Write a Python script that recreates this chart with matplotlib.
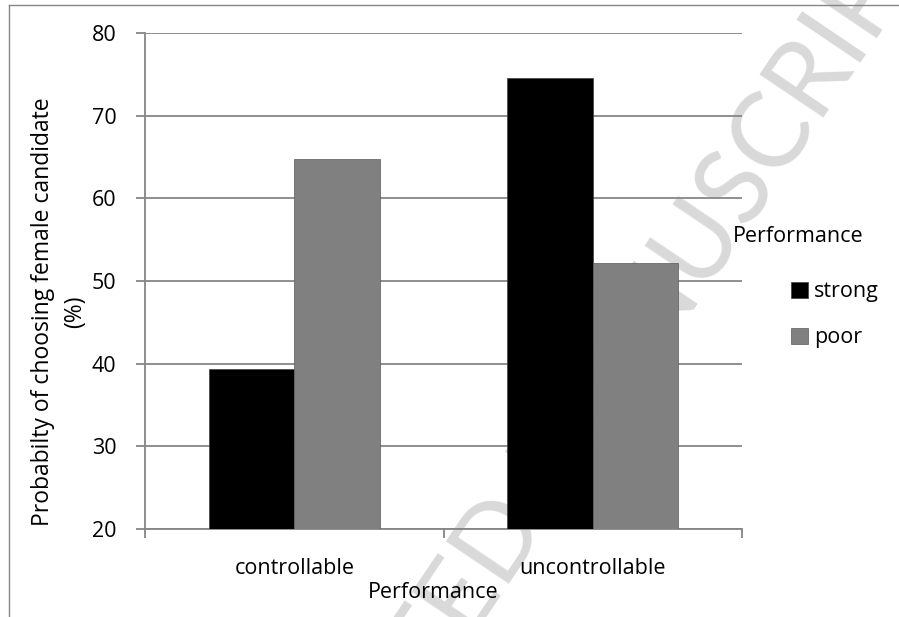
import matplotlib
matplotlib.use('Agg')
import matplotlib.pyplot as plt
import numpy as np
from matplotlib.lines import Line2D

categories = ['controllable', 'uncontrollable']
series = ['strong', 'poor']
strong = [39.4, 74.5]
poor = [64.8, 52.2]
colors = ['#000000', '#808080']
yticks = [20, 30, 40, 50, 60, 70, 80]

plt.rcParams['font.family'] = ['Open Sans', 'DejaVu Sans']
grey = '#868686'
fs = 15.5

fig = plt.figure(figsize=(8.99, 6.17), dpi=100)
ax = fig.add_axes([145 / 899, 88 / 617, 597 / 899, 496 / 617])

# watermark, drawn before the axes
fig.text(570 / 899, 1 - 440 / 617, 'ACCEPTED MANUSCRIPT', fontsize=76,
         family='Lato', color='#d9d9d9', rotation=56, ha='center',
         va='center', zorder=-1)

# partial chart frame
fig.add_artist(Line2D([9 / 899, 1], [1 - 5 / 617] * 2, color=grey, lw=1))
fig.add_artist(Line2D([9 / 899] * 2, [0, 1 - 5 / 617], color=grey, lw=1))

x = np.arange(len(categories))
w = 0.2865
ax.bar(x - w / 2, strong, w, color=colors[0], edgecolor='#404040', lw=0.5,
       label=series[0], zorder=3)
ax.bar(x + w / 2, poor, w, color=colors[1], edgecolor='#5a5a5a', lw=0.5,
       label=series[1], zorder=3)

ax.set_xlim(-0.5, 1.5)
ax.set_ylim(20, 80)
ax.set_yticks(yticks)
ax.yaxis.grid(True, color=grey, lw=1.3)
ax.set_axisbelow(True)
ax.patch.set_alpha(0)

ax.set_xticks([-0.5, 0.5, 1.5])
ax.set_xticklabels([])
ax.set_xticks(x, minor=True)
ax.set_xticklabels(categories, minor=True, fontsize=fs)
ax.tick_params(axis='x', which='minor', length=0, pad=21)
ax.tick_params(axis='x', which='major', length=6.5, color=grey, width=1.3)
ax.tick_params(axis='y', length=6.5, color=grey, width=1.3, labelsize=fs, pad=14)

for s in ['top', 'right']:
    ax.spines[s].set_visible(False)
for s in ['left', 'bottom']:
    ax.spines[s].set_color(grey)
    ax.spines[s].set_linewidth(1.3)

ax.set_xlabel('Performance', fontsize=fs)
ax.xaxis.set_label_coords(0.482, -0.106)
ax.set_ylabel('Probabilty of choosing female candidate\n(%)', fontsize=16.5,
              linespacing=1.45)
ax.yaxis.set_label_coords(-0.097, 0.438)

fig.text(733 / 899, 1 - 237 / 617, 'Performance', fontsize=fs, va='center')
ax.legend(loc='upper left', bbox_to_anchor=(772 / 899, 1 - 262 / 617),
          bbox_transform=fig.transFigure, frameon=False, fontsize=fs,
          handlelength=0.75, handleheight=0.75, handletextpad=0.3,
          labelspacing=1.15)

plt.savefig('out.png', dpi=100)
plt.close()
